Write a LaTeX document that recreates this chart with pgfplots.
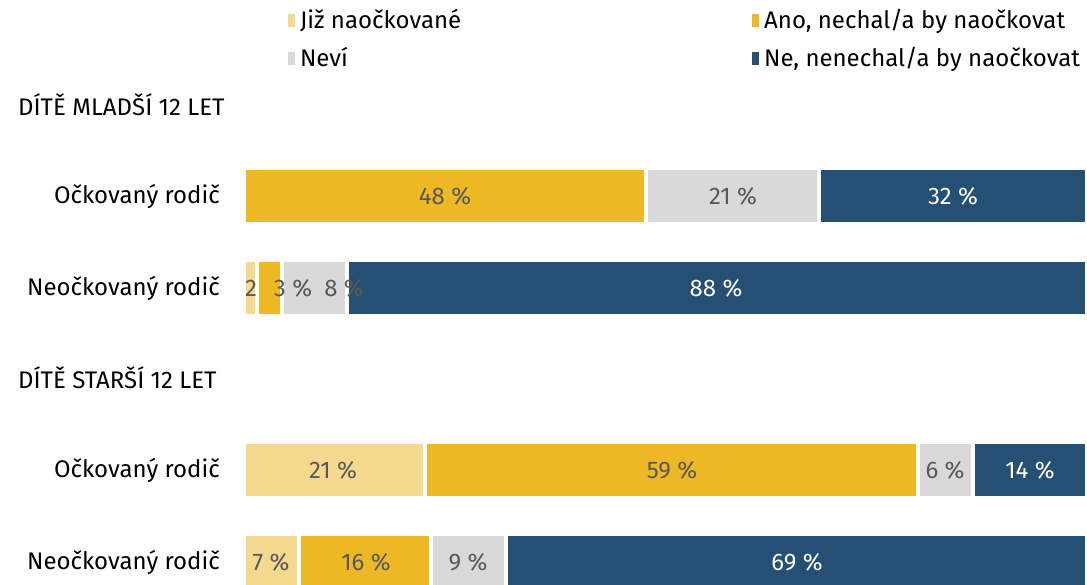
\documentclass[border=0pt]{standalone}
\usepackage{fontspec}
\setmainfont{Fira Sans}
\usepackage{pgfplots}
\pgfplotsset{compat=1.18}
\definecolor{cLight}{HTML}{F5D98F}
\definecolor{cYel}{HTML}{EDB823}
\definecolor{cGray}{HTML}{D9D9D9}
\definecolor{cBlue}{HTML}{265073}
\definecolor{cTxt}{HTML}{595959}
\begin{document}
\fontsize{24bp}{28bp}\selectfont
\begin{tikzpicture}
\begin{axis}[
  at={(244bp,0bp)}, anchor=north west,
  scale only axis, width=843bp, height=585bp,
  xmin=0, xmax=100, ymin=0, ymax=585, y dir=reverse,
  axis lines=none, clip=false,
  xbar stacked, bar width=56,
  every axis plot/.append style={draw=white, line width=4bp},
  legend columns=2,
  legend style={at={(axis description cs:0.052,0.986)}, anchor=north west, draw=none, fill=none,
    font=\fontsize{24bp}{28bp}\selectfont, row sep=13bp,
    /tikz/every even column/.append style={column sep=290bp},
    /tikz/every odd column/.append style={column sep=4bp},
    inner sep=0pt, nodes={inner sep=1bp}},
  legend cell align=left,
  legend image code/.code={\fill[#1, draw=none] (0bp,-6bp) rectangle (7bp,7bp);},
]
\addplot[fill=cLight] coordinates {(0,196) (1.54,288) (21.47,470) (6.58,562)};
\addplot[fill=cYel] coordinates {(47.69,196) (2.97,288) (58.48,470) (15.6,562)};
\addplot[fill=cGray] coordinates {(20.52,196) (7.65,288) (6.47,470) (8.84,562)};
\addplot[fill=cBlue] coordinates {(31.79,196) (87.84,288) (13.58,470) (68.98,562)};
\legend{Již naočkované, {Ano, nechal/a by naočkovat}, Neví, {Ne, nenechal/a by naočkovat}}
\end{axis}
\begin{scope}[every node/.style={font=\fontsize{24bp}{28bp}\selectfont, inner sep=0pt}]
\node[anchor=west] at (18bp,-105bp) {DÍTĚ MLADŠÍ 12 LET};
\node[anchor=west] at (18bp,-378bp) {DÍTĚ STARŠÍ 12 LET};
\node[anchor=east] at (220bp,-196bp) {Očkovaný rodič};
\node[anchor=east] at (220bp,-288bp) {Neočkovaný rodič};
\node[anchor=east] at (220bp,-470bp) {Očkovaný rodič};
\node[anchor=east] at (220bp,-562bp) {Neočkovaný rodič};
\end{scope}
\begin{scope}[every node/.style={font=\fontsize{24bp}{28bp}\selectfont, text=cTxt, inner sep=0pt}]
\node at (445bp,-196bp) {48 \%};
\node at (733bp,-196bp) {21 \%};
\node[text=white] at (953bp,-196bp) {32 \%};
\node at (251bp,-288bp) {2};
\node at (293bp,-288bp) {3 \%};
\node at (344bp,-288bp) {8 \%};
\node[text=white] at (716bp,-288bp) {88 \%};
\node at (333bp,-470bp) {21 \%};
\node at (672bp,-470bp) {59 \%};
\node at (945bp,-470bp) {6 \%};
\node[text=white] at (1030bp,-470bp) {14 \%};
\node at (271bp,-562bp) {7 \%};
\node at (366bp,-562bp) {16 \%};
\node at (468bp,-562bp) {9 \%};
\node[text=white] at (797bp,-562bp) {69 \%};
\end{scope}
\pgfresetboundingbox
\path (0,0) rectangle (1087bp,-585bp);
\end{tikzpicture}
\end{document}
